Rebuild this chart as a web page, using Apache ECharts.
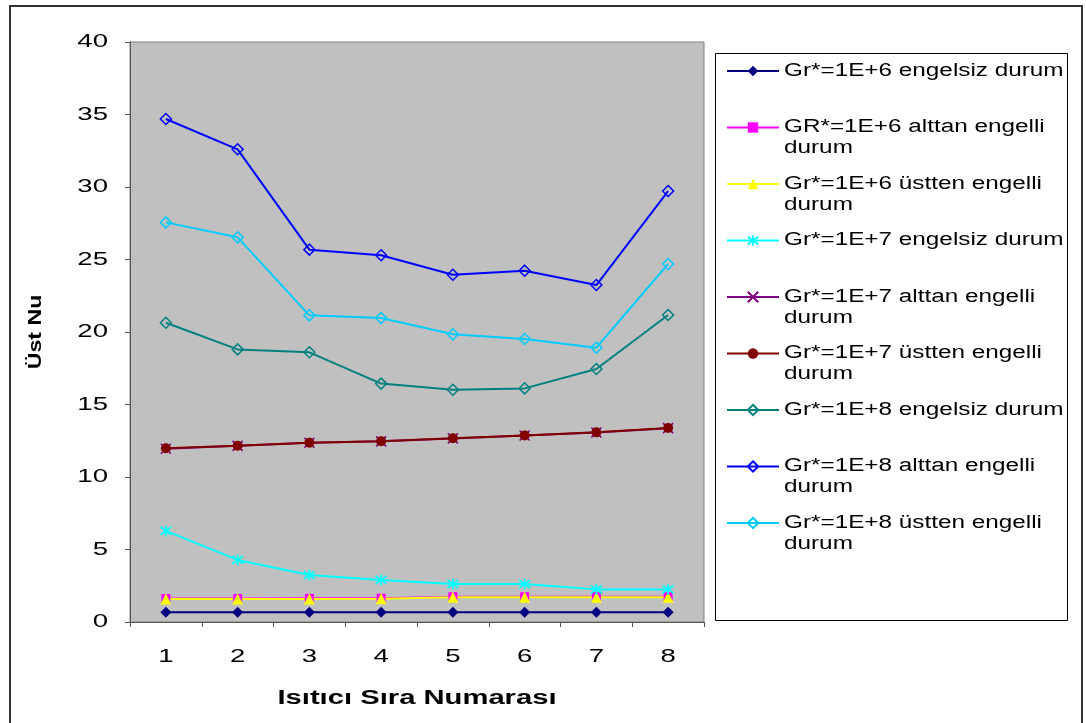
<!DOCTYPE html>
<html><head><meta charset="utf-8">
<script src="https://cdn.jsdelivr.net/npm/echarts@6/dist/echarts.min.js"></script>
<style>html,body{margin:0;padding:0;background:#fff}#c{width:1086px;height:723px}</style>
</head><body><div id="c"></div>
<script>
// ---- data ----
const categories = ['1', '2', '3', '4', '5', '6', '7', '8'];
const seriesNames = [
  'Gr*=1E+6 engelsiz durum',
  'GR*=1E+6 alttan engelli durum',
  'Gr*=1E+6 üstten engelli durum',
  'Gr*=1E+7 engelsiz durum',
  'Gr*=1E+7 alttan engelli durum',
  'Gr*=1E+7 üstten engelli durum',
  'Gr*=1E+8 engelsiz durum',
  'Gr*=1E+8 alttan engelli durum',
  'Gr*=1E+8 üstten engelli durum'
];
const gr6Engelsiz = [0.67, 0.67, 0.67, 0.67, 0.67, 0.67, 0.67, 0.67];
const gr6Alttan   = [1.62, 1.62, 1.63, 1.64, 1.74, 1.74, 1.75, 1.75];
const gr6Usten    = [1.59, 1.59, 1.59, 1.60, 1.70, 1.70, 1.70, 1.70];
const gr7Engelsiz = [6.28, 4.28, 3.24, 2.90, 2.62, 2.62, 2.25, 2.25];
const gr7Alttan   = [11.95, 12.15, 12.36, 12.46, 12.66, 12.86, 13.07, 13.37];
const gr7Usten    = [11.98, 12.16, 12.37, 12.46, 12.67, 12.87, 13.08, 13.38];
const gr8Engelsiz = [20.64, 18.80, 18.60, 16.44, 16.02, 16.11, 17.45, 21.17];
const gr8Alttan   = [34.69, 32.60, 25.68, 25.29, 23.95, 24.23, 23.24, 29.72];
const gr8Usten    = [27.56, 26.53, 21.15, 20.97, 19.84, 19.52, 18.92, 24.69];
const yMin = 0, yMax = 40, yStep = 5;

// ---- horizontal text stretch (reference text is widened) ----
(function () {
  const P = CanvasRenderingContext2D.prototype;
  const of = P.fillText;
  P.fillText = function (t, x, y, mw) {
    const m = /(\d+(?:\.\d+)?)px/.exec(this.font);
    const size = m ? +m[1] : 0;
    const bold = /bold|[6-9]00/.test(this.font);
    let sx = 1;
    if (!bold && size === 18) sx = 1.35;
    else if (!bold && size === 19) sx = 1.45;
    else if (bold && size === 20) sx = 1.46;
    else if (bold && size === 19) sx = 1.22;
    if (sx === 1) return mw === undefined ? of.call(this, t, x, y) : of.call(this, t, x, y, mw);
    this.save();
    this.translate(x, y);
    this.scale(sx, 1);
    if (mw === undefined) of.call(this, t, 0, 0); else of.call(this, t, 0, 0, mw);
    this.restore();
  };
})();

const FONT = 'Liberation Sans';
const starPath = 'path://M10,0 L10,20 M2.9,2.9 L17.1,17.1 M2.9,17.1 L17.1,2.9';
const xPath = 'path://M0,0 L20,20 M0,20 L20,0';

const styles = [
  { data: gr6Engelsiz, color: '#000080', symbol: 'diamond', size: 11, fill: '#000080' },
  { data: gr6Alttan,   color: '#FF00FF', symbol: 'rect', size: 9, fill: '#FF00FF' },
  { data: gr6Usten,    color: '#FFFF00', symbol: 'triangle', size: 11, fill: '#FFFF00' },
  { data: gr7Engelsiz, color: '#00FFFF', symbol: starPath, size: 11, fill: 'rgba(0,0,0,0)', bw: 1.8 },
  { data: gr7Alttan,   color: '#800080', symbol: xPath, size: 10, fill: 'rgba(0,0,0,0)', bw: 1.6 },
  { data: gr7Usten,    color: '#800000', symbol: 'circle', size: 10, fill: '#800000' },
  { data: gr8Engelsiz, color: '#008080', symbol: 'diamond', size: 11, fill: 'rgba(0,0,0,0)', bw: 1.5 },
  { data: gr8Alttan,   color: '#0000FF', symbol: 'diamond', size: 11, fill: 'rgba(0,0,0,0)', bw: 1.5 },
  { data: gr8Usten,    color: '#00CCFF', symbol: 'diamond', size: 11, fill: 'rgba(0,0,0,0)', bw: 1.5 }
];

// legend text: blank first line so that the icon sits on the first text line
const legendLabels = {
  'Gr*=1E+6 engelsiz durum': ' \nGr*=1E+6 engelsiz durum\n ',
  'GR*=1E+6 alttan engelli durum': ' \nGR*=1E+6 alttan engelli\ndurum',
  'Gr*=1E+6 üstten engelli durum': ' \nGr*=1E+6 üstten engelli\ndurum',
  'Gr*=1E+7 engelsiz durum': ' \nGr*=1E+7 engelsiz durum\n ',
  'Gr*=1E+7 alttan engelli durum': ' \nGr*=1E+7 alttan engelli\ndurum',
  'Gr*=1E+7 üstten engelli durum': ' \nGr*=1E+7 üstten engelli\ndurum',
  'Gr*=1E+8 engelsiz durum': ' \nGr*=1E+8 engelsiz durum\n ',
  'Gr*=1E+8 alttan engelli durum': ' \nGr*=1E+8 alttan engelli\ndurum',
  'Gr*=1E+8 üstten engelli durum': ' \nGr*=1E+8 üstten engelli\ndurum'
};
const LH = 21;

const chart = echarts.init(document.getElementById('c'), null, { renderer: 'canvas' });
chart.setOption({
  animation: false,
  backgroundColor: '#fff',
  textStyle: { fontFamily: FONT, color: '#000' },
  grid: {
    left: 130, top: 42, width: 574, height: 580, show: true,
    backgroundColor: '#C0C0C0', borderColor: '#808080', borderWidth: 1, containLabel: false
  },
  xAxis: {
    type: 'category', data: categories, boundaryGap: true,
    axisLine: { lineStyle: { color: '#555', width: 1 } },
    axisTick: { show: true, length: 5, lineStyle: { color: '#555' } },
    axisLabel: { fontFamily: FONT, fontSize: 19, color: '#000', margin: 25 },
    splitLine: { show: false },
    name: 'Isıtıcı Sıra Numarası', nameLocation: 'middle', nameGap: 66,
    nameTextStyle: { fontFamily: FONT, fontSize: 20, fontWeight: 'bold', color: '#000' }
  },
  yAxis: {
    type: 'value', min: yMin, max: yMax, interval: yStep,
    axisLine: { show: true, lineStyle: { color: '#555', width: 1 } },
    axisTick: { show: true, length: 5, lineStyle: { color: '#555' } },
    axisLabel: { fontFamily: FONT, fontSize: 19, color: '#000', margin: 22 },
    splitLine: { show: false },
    name: 'Üst Nu', nameLocation: 'middle', nameGap: 85, nameRotate: 90,
    nameTextStyle: { fontFamily: FONT, fontSize: 19, fontWeight: 'bold', color: '#000' }
  },
  legend: {
    orient: 'vertical', left: 726, top: 39.5, padding: 0,
    itemWidth: 52, itemHeight: 13, itemGap: -6.5,
    textStyle: { fontFamily: FONT, fontSize: 18, lineHeight: LH, color: '#000' },
    data: seriesNames.slice(),
    formatter: n => legendLabels[n]
  },
  graphic: [
    { type: 'rect', shape: { x: 10, y: 6, width: 1072, height: 800 }, style: { fill: 'none', stroke: '#333', lineWidth: 2 }, silent: true, z: -1 },
    { type: 'rect', shape: { x: 715.5, y: 53.5, width: 352, height: 567 }, style: { fill: 'none', stroke: '#000', lineWidth: 1 }, silent: true }
  ],
  series: styles.map((s, i) => ({
    name: seriesNames[i], type: 'line', data: s.data,
    symbol: s.symbol, symbolSize: s.size, showSymbol: true,
    lineStyle: { color: s.color, width: 2 },
    itemStyle: { color: s.fill, borderColor: s.color, borderWidth: s.bw || 0 },
    emphasis: { disabled: true }
  }))
});
</script>
</body></html>
